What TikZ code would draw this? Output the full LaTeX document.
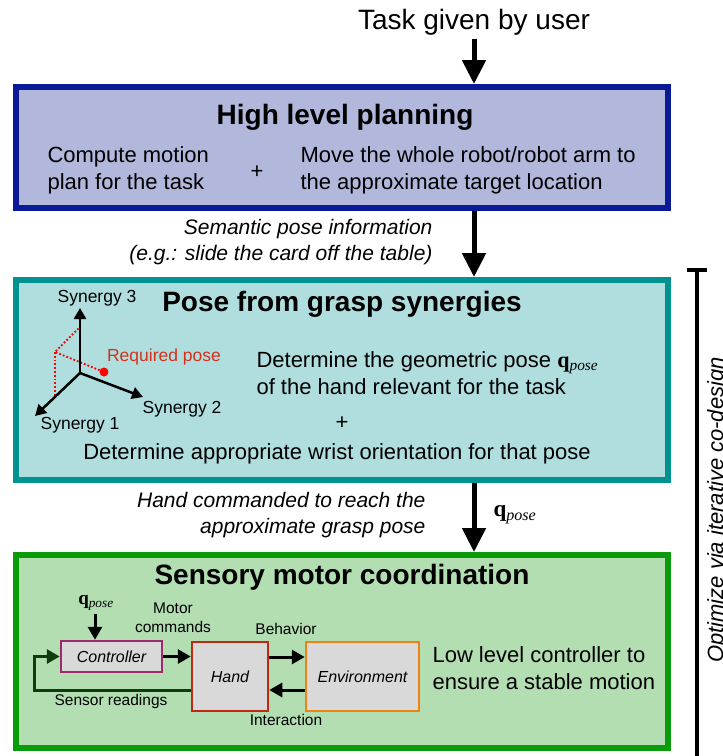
\documentclass[tikz,border=0pt]{standalone}
\usepackage{fontspec}
\setmainfont{Liberation Sans}
\newfontfamily\seriffont{Liberation Serif}
\usetikzlibrary{arrows.meta}

\definecolor{blueline}{RGB}{10,25,150}
\definecolor{bluefill}{RGB}{178,183,220}
\definecolor{tealline}{RGB}{0,145,145}
\definecolor{tealfill}{RGB}{176,222,222}
\definecolor{greenline}{RGB}{10,155,10}
\definecolor{greenfill}{RGB}{178,222,178}
\definecolor{ctrlline}{RGB}{160,40,110}
\definecolor{handline}{RGB}{190,40,20}
\definecolor{envline}{RGB}{240,130,20}
\definecolor{blockfill}{RGB}{217,217,217}
\definecolor{fbgreen}{RGB}{15,60,15}
\definecolor{posered}{RGB}{210,50,30}

\newcommand{\qpose}{{\seriffont\textbf{q}\textsubscript{\itshape pose}}}

\begin{document}
\begin{tikzpicture}[
    x=1pt, y=-1pt,
    stage/.style={rectangle, line width=6pt, minimum width=652pt, inner sep=0pt},
    block/.style={rectangle, line width=2.5pt, fill=blockfill, inner sep=0pt, font=\fontsize{16}{19}\selectfont\itshape},
    title/.style={font=\fontsize{28}{32}\selectfont\bfseries},
    body/.style={font=\fontsize{22}{27}\selectfont, align=left},
    note/.style={font=\fontsize{21}{26}\selectfont\itshape, align=right},
    small/.style={font=\fontsize{15.5}{19}\selectfont, align=center},
    synlabel/.style={font=\fontsize{17.5}{20}\selectfont},
    bigarrow/.style={-{Triangle[length=24pt, width=23pt]}, line width=5pt},
    arrow/.style={-{Triangle[length=13pt, width=14pt]}, line width=3pt},
    axis/.style={-{Triangle[length=11pt, width=12pt]}, line width=2.5pt},
    proj/.style={red, line width=1.8pt, dotted}
]
\useasboundingbox (0,0) rectangle (723,756);

% Task et planification haut niveau
\node[font=\fontsize{28}{32}\selectfont] (task) at (474,22) {Task given by user};

\node[stage, draw=blueline, fill=bluefill, minimum height=121pt] (highlevel) at (342,147.5) {};
\node[title] (hltitle) at (345,117) {High level planning};
\node[body, anchor=west] (motion) at (44,170) {Compute motion\\plan for the task};
\node[font=\fontsize{22}{27}\selectfont] (plusa) at (257,172) {+};
\node[body, anchor=west] (moverobot) at (297,170) {Move the whole robot/robot arm to\\the approximate target location};

% Poses par synergies
\node[stage, draw=tealline, fill=tealfill, minimum height=200pt] (posebox) at (342,380) {};
\node[title] (posetitle) at (342,304) {Pose from grasp synergies};

\coordinate (origin) at (80,373);
\coordinate (syn3) at (80,308);
\coordinate (syn2) at (143,397);
\coordinate (syn1) at (35,416);
\coordinate (corner) at (55,352);
\coordinate (top3) at (80,327);
\coordinate (foot1) at (55,396);
\node[circle, fill=red, inner sep=0pt, minimum size=9pt] (reqdot) at (104,372) {};
\draw[proj] (reqdot) -- (corner) -- (top3);
\draw[proj] (corner) -- (foot1);
\draw[axis] (origin) -- (syn3);
\draw[axis] (origin) -- (syn2);
\draw[axis] (origin) -- (syn1);
\node[synlabel] (lsyn3) at (97,298) {Synergy 3};
\node[synlabel] (lsyn2) at (182,409) {Synergy 2};
\node[synlabel] (lsyn1) at (80,425) {Synergy 1};
\node[synlabel, text=posered] (lreq) at (164,357) {Required pose};

\node[body, anchor=west] (geompose) at (253,373) {Determine the geometric pose \qpose\\of the hand relevant for the task};
\node[font=\fontsize{22}{27}\selectfont] (plusb) at (342,423) {+};
\node[font=\fontsize{22}{27}\selectfont] (wrist) at (337,454) {Determine appropriate wrist orientation for that pose};

% Coordination sensori-motrice
\node[stage, draw=greenline, fill=greenfill, minimum height=193pt] (sensorybox) at (342,651.5) {};
\node[title] (senstitle) at (342,577) {Sensory motor coordination};

\node[block, draw=ctrlline, minimum width=101pt, minimum height=31pt] (ctrl) at (111.5,656.5) {Controller};
\node[block, draw=handline, minimum width=76pt, minimum height=69pt] (hand) at (230,676.5) {Hand};
\node[block, draw=envline, minimum width=113pt, minimum height=69pt] (env) at (362.5,676.5) {Environment};

\node[font=\fontsize{19}{22}\selectfont] (qin) at (96,603) {\qpose};
\node[small] (motorcmd) at (173,618) {Motor\\commands};
\node[small] (behavior) at (286,629) {Behavior};
\node[small] (interact) at (286,720) {Interaction};
\node[small] (sensread) at (111,701) {Sensor readings};
\node[body, anchor=west] (lowlevel) at (429,668) {Low level controller to\\ensure a stable motion};

\draw[arrow] (qin.south -| 95,0) -- (ctrl.north -| 95,0);
\draw[arrow] (ctrl.east) -- (ctrl.east -| hand.west);
\draw[arrow] ([yshift=19.5pt]hand.east) -- ([yshift=19.5pt]env.west);
\draw[arrow] ([yshift=-13.5pt]env.west) -- ([yshift=-13.5pt]hand.east);
\draw[arrow, fbgreen] ([yshift=-13.5pt]hand.west) -- ++(-156,0) |- (ctrl.west);

% Fleches entre les etages
\draw[bigarrow] (task.south) -- (task.south |- highlevel.north);
\draw[bigarrow] (highlevel.south -| task.south) -- (posebox.north -| task.south);
\draw[bigarrow] (posebox.south -| task.south) -- (sensorybox.north -| task.south);

\node[note, anchor=east] (semantic) at (436,242) {Semantic pose information\\(e.g.: slide the card off the table)};
\node[note, anchor=east] (commanded) at (429,515) {Hand commanded to reach the\\approximate grasp pose};
\node[font=\fontsize{23}{27}\selectfont, anchor=west] (qlabel) at (490,515) {\qpose};

% Co-design iteratif
\coordinate (brtop) at (697,270);
\coordinate (brbot) at (697,756);
\draw[line width=4pt] (brtop) -- (brbot);
\draw[line width=4pt] ([xshift=-10pt]brtop) -- ([xshift=10pt]brtop);
\node[rotate=90, anchor=base, font=\fontsize{22}{26}\selectfont\itshape] (codesign) at (723,510) {Optimize via iterative co-design};

\end{tikzpicture}
\end{document}
